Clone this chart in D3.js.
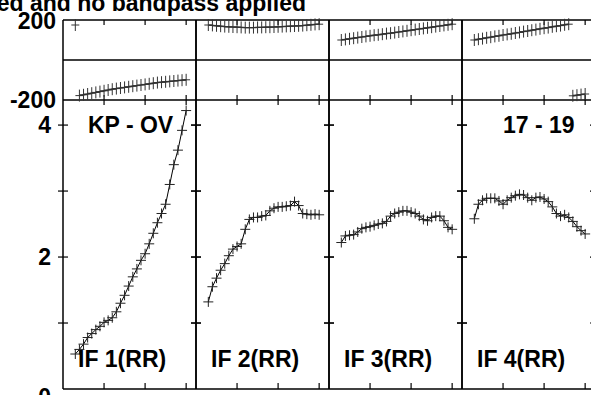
<!DOCTYPE html>
<html>
<head>
<meta charset="utf-8">
<script src="https://cdn.jsdelivr.net/npm/d3@7"></script>
<style>
  body { margin: 0; background: #fff; }
  svg { display: block; font-family: "Liberation Sans", Arial, sans-serif; font-weight: bold; }
</style>
</head>
<body>
<svg id="chart" width="591" height="395"></svg>
<script>
// channel numbers plotted in every IF
const channels = [3, 4, 5, 6, 7, 8, 9, 10, 11, 12, 13, 14, 15, 16, 17, 18, 19, 20, 21, 22, 23, 24, 25, 26, 27, 28, 29, 30];

const ifLabels = ['IF 1(RR)', 'IF 2(RR)', 'IF 3(RR)', 'IF 4(RR)'];
const baselineLabel = 'KP - OV';
const timeLabel = '17 - 19';
const titleText = 'Pol RR, calibration applied and no bandpass applied';

// amplitudes per IF
const ampIF1 = [0.53, 0.60, 0.68, 0.78, 0.84, 0.90, 0.95, 1.01, 1.04, 1.08, 1.17, 1.30, 1.42, 1.56,
                1.70, 1.82, 1.95, 2.05, 2.20, 2.36, 2.52, 2.66, 2.80, 3.10, 3.40, 3.62, 3.92, 4.22];
const ampIF2 = [1.32, 1.55, 1.68, 1.80, 1.90, 2.02, 2.12, 2.16, 2.20, 2.42, 2.57, 2.60, 2.60, 2.62,
                2.63, 2.70, 2.74, 2.76, 2.76, 2.77, 2.78, 2.84, 2.78, 2.66, 2.65, 2.64, 2.65, 2.64];
const ampIF3 = [2.22, 2.32, 2.33, 2.34, 2.38, 2.43, 2.45, 2.46, 2.48, 2.50, 2.51, 2.54, 2.62, 2.66,
                2.68, 2.70, 2.70, 2.68, 2.66, 2.62, 2.57, 2.55, 2.60, 2.62, 2.62, 2.55, 2.45, 2.42];
const ampIF4 = [2.58, 2.80, 2.86, 2.89, 2.89, 2.89, 2.85, 2.80, 2.86, 2.90, 2.93, 2.95, 2.94, 2.90,
                2.86, 2.90, 2.91, 2.88, 2.84, 2.76, 2.66, 2.62, 2.64, 2.60, 2.54, 2.46, 2.40, 2.35];

// phases (degrees) per IF
const phaseIF1 = [175, -178, -174, -170, -166, -162, -158, -154, -150, -146, -143, -140, -137, -134,
                  -131, -128, -125, -122, -119, -116, -113, -111, -109, -107, -105, -103, -101, -99];
const phaseIF2 = [175, 173, 171, 169, 167, 166, 165, 164, 163, 162, 162, 162, 163, 163,
                  164, 164, 165, 166, 167, 168, 169, 170, 171, 172, 174, 176, 178, 179];
const phaseIF3 = [100, 103, 106, 109, 112, 115, 118, 121, 124, 126, 129, 132, 134, 137,
                  140, 143, 146, 149, 152, 155, 158, 161, 164, 167, 170, 173, 176, 179];
const phaseIF4 = [100, 104, 107, 111, 114, 118, 121, 125, 128, 131, 135, 138, 142, 145,
                  149, 152, 156, 159, 162, 166, 169, 172, 176, 179, -179, -176, -173, -170];

const ampTicks = [0, 1, 2, 3, 4];
const ampTickLabels = ['0', '', '2', '', '4'];
const phaseTickLabels = ['200', '-200'];
const chanTicks = [10, 20, 30];

const amps = [ampIF1, ampIF2, ampIF3, ampIF4];
const phases = [phaseIF1, phaseIF2, phaseIF3, phaseIF4];

const svg = d3.select('#chart');
const left = 63, panelW = 133;
const phTop = 20, phBot = 100, ampBot = 389;
const fs = 23;

const yPhase = d3.scaleLinear().domain([-200, 200]).range([phBot, phTop]);
const yAmp = d3.scaleLinear().domain([0, 4.38]).range([ampBot, phBot]);

svg.append('text')
    .attr('x', 306).attr('y', 11)
    .attr('text-anchor', 'end')
    .attr('font-size', fs)
    .text(titleText);

// y labels
svg.append('text').attr('x', 56).attr('y', yPhase(200) + 1).attr('dy', '0.36em')
    .attr('text-anchor', 'end').attr('font-size', fs).text(phaseTickLabels[0]);
svg.append('text').attr('x', 56).attr('y', yPhase(-200)).attr('dy', '0.36em')
    .attr('text-anchor', 'end').attr('font-size', fs).text(phaseTickLabels[1]);
ampTicks.forEach((t, i) => {
    if (!ampTickLabels[i]) return;
    svg.append('text')
        .attr('x', 51)
        .attr('y', yAmp(t) + (t === 0 ? 8 : 0))
        .attr('dy', '0.36em')
        .attr('text-anchor', 'end')
        .attr('font-size', fs)
        .text(ampTickLabels[i]);
});

const cross = (g, x, y, hw, hh) => {
    g.append('line').attr('x1', x - hw).attr('x2', x + hw).attr('y1', y).attr('y2', y);
    g.append('line').attr('x1', x).attr('x2', x).attr('y1', y - hh).attr('y2', y + hh);
};

amps.forEach((amp, p) => {
    const x0 = left + p * panelW;
    const x = d3.scaleLinear().domain([0, 32.4]).range([x0, x0 + panelW]);
    const g = svg.append('g');

    // frame
    const frame = g.append('g').attr('stroke', '#000').attr('stroke-width', 1.5);
    [phTop, (phTop + phBot) / 2, phBot, ampBot].forEach(y =>
        frame.append('line').attr('x1', x0).attr('x2', x0 + panelW).attr('y1', y).attr('y2', y));
    frame.append('line').attr('x1', x0).attr('x2', x0).attr('y1', phTop).attr('y2', ampBot);
    frame.append('line').attr('x1', x0 + panelW).attr('x2', x0 + panelW).attr('y1', phTop).attr('y2', ampBot);

    // channel ticks
    const ticks = g.append('g').attr('stroke', '#000').attr('stroke-width', 1.2);
    chanTicks.forEach(c => {
        const tx = x(c);
        ticks.append('line').attr('x1', tx).attr('x2', tx).attr('y1', phTop).attr('y2', phTop + 5);
        ticks.append('line').attr('x1', tx).attr('x2', tx).attr('y1', phBot - 5).attr('y2', phBot + 5);
        ticks.append('line').attr('x1', tx).attr('x2', tx).attr('y1', ampBot - 6).attr('y2', ampBot);
    });
    // amplitude ticks on both panel edges
    ampTicks.slice(1).forEach(t => {
        [x0, x0 + panelW].forEach(ex =>
            ticks.append('line').attr('x1', ex - 5).attr('x2', ex + 5).attr('y1', yAmp(t)).attr('y2', yAmp(t)));
    });

    // amplitude data
    const pts = channels.map((c, i) => [x(c), yAmp(amp[i])]);
    g.append('path')
        .attr('d', d3.line()(pts))
        .attr('fill', 'none').attr('stroke', '#000').attr('stroke-width', 1);
    const ca = g.append('g').attr('stroke', '#222').attr('stroke-width', 1);
    pts.forEach(([px, py]) => cross(ca, px, py, 5, 5));

    // phase data: break the line at wraps
    const ph = phases[p];
    const segs = [];
    let cur = [];
    channels.forEach((c, i) => {
        if (i > 0 && Math.abs(ph[i] - ph[i - 1]) > 180) { segs.push(cur); cur = []; }
        cur.push([x(c), yPhase(ph[i])]);
    });
    segs.push(cur);
    segs.forEach(s => {
        if (s.length > 1) g.append('path').attr('d', d3.line()(s))
            .attr('fill', 'none').attr('stroke', '#000').attr('stroke-width', 1.2);
    });
    const cp = g.append('g').attr('stroke', '#333').attr('stroke-width', 1);
    channels.forEach((c, i) => cross(cp, x(c), yPhase(ph[i]), 4, 6));

    // panel label
    g.append('text')
        .attr('x', x0 + 15).attr('y', 367)
        .attr('font-size', fs)
        .text(ifLabels[p]);
});

svg.append('text').attr('x', 88).attr('y', 133).attr('font-size', fs).text(baselineLabel);
svg.append('text').attr('x', 503).attr('y', 133).attr('font-size', fs).text(timeLabel);
</script>
</body>
</html>
